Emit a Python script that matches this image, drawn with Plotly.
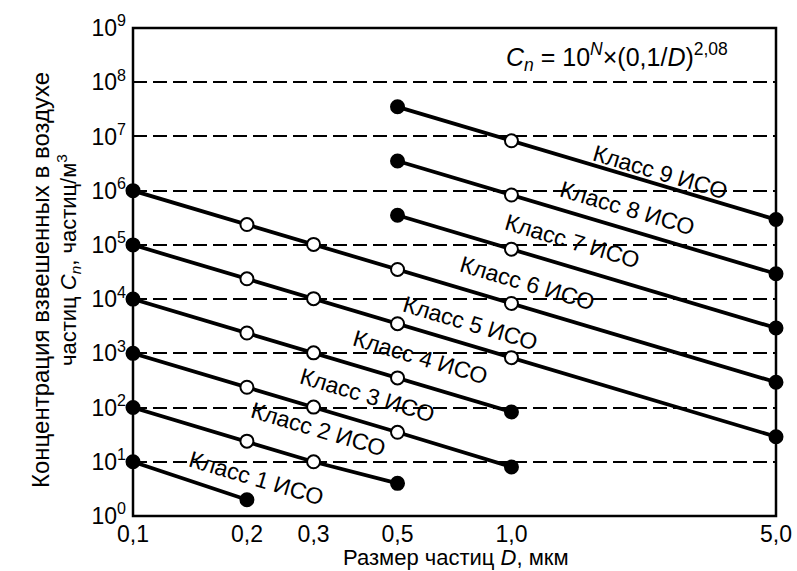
import plotly.graph_objects as go

# ---- data (ISO 14644-1 class limits, particles per m^3) ----
x_ticks = [0.1, 0.2, 0.3, 0.5, 1.0, 5.0]
x_ticklabels = ["0,1", "0,2", "0,3", "0,5", "1,0", "5,0"]
y_ticks = [1, 10, 1e2, 1e3, 1e4, 1e5, 1e6, 1e7, 1e8, 1e9]
y_ticklabels = ["10<sup>%d</sup>" % i for i in range(10)]

class_labels = ["Класс 1 ИСО", "Класс 2 ИСО", "Класс 3 ИСО", "Класс 4 ИСО", "Класс 5 ИСО",
                "Класс 6 ИСО", "Класс 7 ИСО", "Класс 8 ИСО", "Класс 9 ИСО"]

class1_d = [0.1, 0.2]
class1_c = [10, 2]
class2_d = [0.1, 0.2, 0.3, 0.5]
class2_c = [100, 24, 10, 4]
class3_d = [0.1, 0.2, 0.3, 0.5, 1.0]
class3_c = [1000, 237, 102, 35, 8]
class4_d = [0.1, 0.2, 0.3, 0.5, 1.0]
class4_c = [10000, 2370, 1020, 352, 83]
class5_d = [0.1, 0.2, 0.3, 0.5, 1.0, 5.0]
class5_c = [100000, 23700, 10200, 3520, 832, 29]
class6_d = [0.1, 0.2, 0.3, 0.5, 1.0, 5.0]
class6_c = [1000000, 237000, 102000, 35200, 8320, 293]
class7_d = [0.5, 1.0, 5.0]
class7_c = [352000, 83200, 2930]
class8_d = [0.5, 1.0, 5.0]
class8_c = [3520000, 832000, 29300]
class9_d = [0.5, 1.0, 5.0]
class9_c = [35200000, 8320000, 293000]

classes_d = [class1_d, class2_d, class3_d, class4_d, class5_d, class6_d, class7_d, class8_d, class9_d]
classes_c = [class1_c, class2_c, class3_c, class4_c, class5_c, class6_c, class7_c, class8_c, class9_c]

# ---- layout geometry ----
W, H = 797, 571
ML, MR, MT, MB = 133, 21, 28, 55
PW, PH = W - ML - MR, H - MT - MB

def px(x):
    return (x - ML) / PW

def py(y):
    return (H - MB - y) / PH

FONT = "Liberation Sans, Arial, sans-serif"

fig = go.Figure()
for d, c in zip(classes_d, classes_c):
    colors = ["black" if (i == 0 or i == len(d) - 1) else "white" for i in range(len(d))]
    fig.add_trace(go.Scatter(
        x=d, y=c, mode="lines+markers",
        line=dict(color="black", width=3.8),
        marker=dict(size=13, color=colors, line=dict(color="black", width=2)),
        cliponaxis=False, showlegend=False, hoverinfo="skip"))

# class labels positions (pixel centres in the figure)
label_pos = [(256, 478), (318, 429), (367, 395), (420, 357), (470, 323),
             (527, 283), (572, 241), (627, 208), (660, 172)]
for txt, (lx, ly) in zip(class_labels, label_pos):
    fig.add_annotation(x=px(lx), y=py(ly), xref="paper", yref="paper", text=txt,
                       showarrow=False, textangle=16.5, xanchor="center", yanchor="middle",
                       font=dict(family=FONT, size=23, color="black"))

# formula
fig.add_annotation(x=px(617), y=py(57), xref="paper", yref="paper",
                   text="<i>C<sub>n</sub></i> = 10<sup><i>N</i></sup>×(0,1/<i>D</i>)<sup>2,08</sup>",
                   showarrow=False, xanchor="center", yanchor="middle",
                   font=dict(family=FONT, size=25, color="black"))

# y title (two lines)
fig.add_annotation(x=px(40), y=py(280), xref="paper", yref="paper",
                   text="Концентрация взвешенных в воздухе", textangle=-90,
                   showarrow=False, xanchor="center", yanchor="middle",
                   font=dict(family=FONT, size=24, color="black"))
fig.add_annotation(x=px(68), y=py(260), xref="paper", yref="paper",
                   text="частиц <i>C<sub>n</sub></i>, частиц/м<sup>3</sup>", textangle=-90,
                   showarrow=False, xanchor="center", yanchor="middle",
                   font=dict(family=FONT, size=22, color="black"))

# x title
fig.add_annotation(x=px(456), y=py(557), xref="paper", yref="paper",
                   text="Размер частиц <i>D</i>, мкм",
                   showarrow=False, xanchor="center", yanchor="middle",
                   font=dict(family=FONT, size=22, color="black"))

# plot frame
fig.add_shape(type="rect", xref="paper", yref="paper", x0=0, y0=0, x1=1, y1=1,
              line=dict(color="black", width=2.5), layer="above")

fig.update_xaxes(type="log", range=[-1.0, 0.69898], tickvals=x_ticks, ticktext=x_ticklabels,
                 showgrid=False, zeroline=False, showline=False,
                 ticks="", automargin=False, ticklabelstandoff=2,
                 tickfont=dict(family=FONT, size=23, color="black"))
fig.update_yaxes(type="log", range=[0, 9], tickvals=y_ticks, ticktext=y_ticklabels,
                 showgrid=True, gridcolor="black", gridwidth=2, griddash="14px,6px",
                 zeroline=False, showline=False,
                 ticks="", automargin=False, ticklabelstandoff=6,
                 tickfont=dict(family=FONT, size=23, color="black"))

fig.update_layout(width=W, height=H, margin=dict(l=ML, r=MR, t=MT, b=MB, autoexpand=False),
                  plot_bgcolor="white", paper_bgcolor="white", showlegend=False)

fig.write_html("out.html", config={"displayModeBar": False},
               post_script="document.body.style.margin='0';")
